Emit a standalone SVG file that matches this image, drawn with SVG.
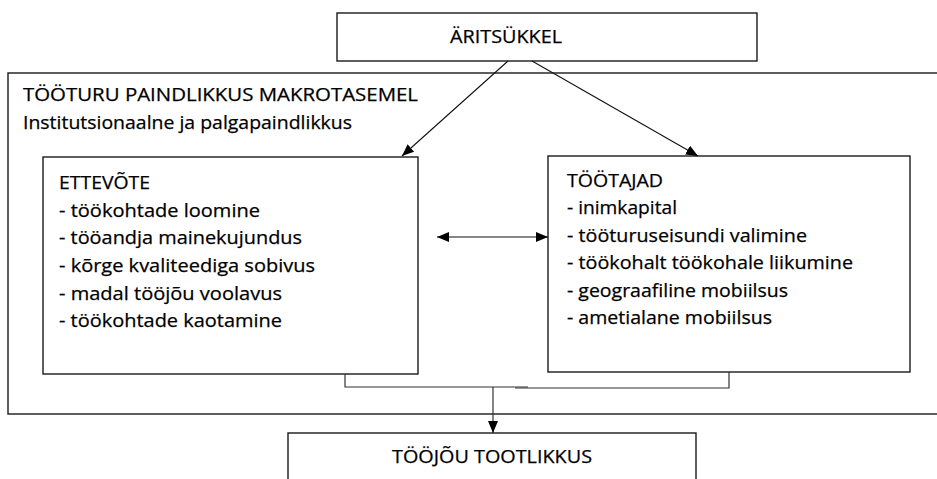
<svg xmlns="http://www.w3.org/2000/svg" width="937" height="479" viewBox="0 0 937 479">
  <style>
    .box { fill: #fff; stroke: #1a1a1a; stroke-width: 1.4; }
    .frame { fill: none; stroke: #1a1a1a; stroke-width: 1.4; }
    .link { fill: none; stroke: #111; stroke-width: 1.1; }
    .join { fill: none; stroke: #333; stroke-width: 1.2; }
    text { font-family: "Open Sans", Lato, "Liberation Sans", Arial, sans-serif; font-size: 19px; fill: #000; stroke: #000; stroke-width: 0.25; }
    .mid { text-anchor: middle; }
  </style>
  <defs>
    <marker id="head" viewBox="0 0 12 10" refX="12" refY="5" markerWidth="12" markerHeight="10" markerUnits="userSpaceOnUse" orient="auto-start-reverse">
      <path d="M0,0 L12,5 L0,10 z" fill="#000"/>
    </marker>
  </defs>

  <!-- outer frame: labour-market flexibility at macro level -->
  <g id="makrotase">
    <rect class="frame" x="8" y="73" width="940" height="341"/>
    <text x="23" y="101" textLength="395" lengthAdjust="spacingAndGlyphs">TÖÖTURU PAINDLIKKUS MAKROTASEMEL</text>
    <text x="23" y="129" textLength="329" lengthAdjust="spacingAndGlyphs">Institutsionaalne ja palgapaindlikkus</text>
  </g>

  <g id="aritsukkel">
    <rect class="box" x="337" y="13" width="420" height="48"/>
    <text class="mid" x="506" y="43" textLength="112" lengthAdjust="spacingAndGlyphs">ÄRITSÜKKEL</text>
  </g>

  <g id="ettevote">
    <rect class="box" x="43" y="157" width="375" height="217"/>
    <text x="59" y="189" textLength="91" lengthAdjust="spacingAndGlyphs">ETTEVÕTE</text>
    <text x="59" y="217" textLength="201" lengthAdjust="spacingAndGlyphs">- töökohtade loomine</text>
    <text x="59" y="244" textLength="243" lengthAdjust="spacingAndGlyphs">- tööandja mainekujundus</text>
    <text x="59" y="272" textLength="256" lengthAdjust="spacingAndGlyphs">- kõrge kvaliteediga sobivus</text>
    <text x="59" y="300" textLength="223" lengthAdjust="spacingAndGlyphs">- madal tööjõu voolavus</text>
    <text x="59" y="327" textLength="223" lengthAdjust="spacingAndGlyphs">- töökohtade kaotamine</text>
  </g>

  <g id="tootajad">
    <rect class="box" x="548" y="156" width="362" height="216"/>
    <text x="567" y="187" textLength="96" lengthAdjust="spacingAndGlyphs">TÖÖTAJAD</text>
    <text x="567" y="214" textLength="110" lengthAdjust="spacingAndGlyphs">- inimkapital</text>
    <text x="567" y="242" textLength="240" lengthAdjust="spacingAndGlyphs">- tööturuseisundi valimine</text>
    <text x="567" y="269" textLength="286" lengthAdjust="spacingAndGlyphs">- töökohalt töökohale liikumine</text>
    <text x="567" y="297" textLength="221" lengthAdjust="spacingAndGlyphs">- geograafiline mobiilsus</text>
    <text x="567" y="324" textLength="205" lengthAdjust="spacingAndGlyphs">- ametialane mobiilsus</text>
  </g>

  <g id="tootlikkus">
    <rect class="box" x="288" y="433" width="408" height="60"/>
    <text class="mid" x="492" y="463" textLength="200" lengthAdjust="spacingAndGlyphs">TÖÖJÕU TOOTLIKKUS</text>
  </g>

  <g id="connectors">
    <line class="link" x1="508" y1="61" x2="402" y2="156" marker-end="url(#head)"/>
    <line class="link" x1="532" y1="61" x2="698" y2="156" marker-end="url(#head)"/>
    <line class="link" x1="437" y1="237" x2="548" y2="237" marker-start="url(#head)" marker-end="url(#head)"/>
    <polyline class="join" points="345,374 345,387 528,387"/>
    <polyline class="join" points="729,372 729,388 515,388"/>
    <line class="join" x1="493" y1="387" x2="493" y2="433" marker-end="url(#head)"/>
  </g>
</svg>
